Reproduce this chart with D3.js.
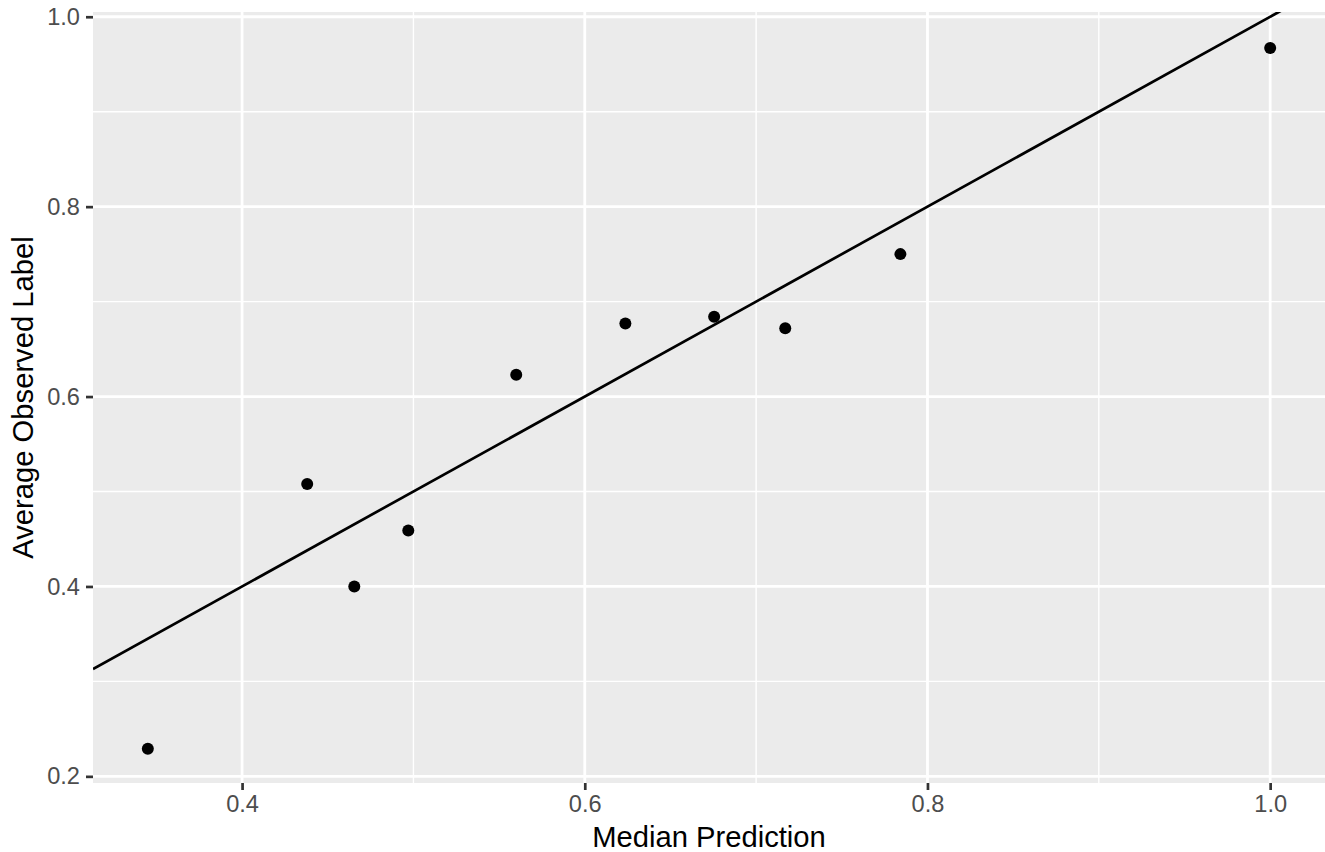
<!DOCTYPE html>
<html>
<head>
<meta charset="utf-8">
<script src="https://cdn.jsdelivr.net/npm/d3@7"></script>
<style>
body { margin: 0; background: #fff; }
text { font-family: "Liberation Sans", Arial, sans-serif; }
</style>
</head>
<body>
<svg></svg>
<script>
var screen = {width: 1325, height: 852}
var margins = {top: 12, right: 0, left: 93, bottom: 69}

// binned calibration points
var medianPred = [0.345, 0.438, 0.4655, 0.497, 0.560, 0.6237, 0.6755, 0.717, 0.7842, 1.0]
var avgObserved = [0.229, 0.508, 0.400, 0.459, 0.623, 0.677, 0.684, 0.672, 0.750, 0.967]

var xTicks = [0.4, 0.6, 0.8, 1.0]
var yTicks = [0.2, 0.4, 0.6, 0.8, 1.0]
var xMinor = [0.5, 0.7, 0.9]
var yMinor = [0.3, 0.5, 0.7, 0.9]

var xDomain = [0.313, 1.032]
var yDomain = [0.193, 1.005]

var points = medianPred.map(function(x, i) { return {x: x, y: avgObserved[i]} })

var setup = function()
{
    var svg = d3.select("svg")
        .attr("width", screen.width)
        .attr("height", screen.height)

    var x = d3.scaleLinear().domain(xDomain).range([margins.left, screen.width - margins.right])
    var y = d3.scaleLinear().domain(yDomain).range([screen.height - margins.bottom, margins.top])

    svg.append("clipPath").attr("id", "panel")
        .append("rect")
        .attr("x", x.range()[0]).attr("y", y.range()[1])
        .attr("width", x.range()[1] - x.range()[0])
        .attr("height", y.range()[0] - y.range()[1])

    // panel background
    svg.append("rect")
        .attr("x", x.range()[0]).attr("y", y.range()[1])
        .attr("width", x.range()[1] - x.range()[0])
        .attr("height", y.range()[0] - y.range()[1])
        .attr("fill", "#EBEBEB")

    var grid = svg.append("g").attr("clip-path", "url(#panel)")

    grid.selectAll(".xminor").data(xMinor).enter().append("line")
        .attr("x1", x).attr("x2", x)
        .attr("y1", y.range()[0]).attr("y2", y.range()[1])
        .attr("stroke", "white").attr("stroke-width", 1.4)
    grid.selectAll(".yminor").data(yMinor).enter().append("line")
        .attr("y1", y).attr("y2", y)
        .attr("x1", x.range()[0]).attr("x2", x.range()[1])
        .attr("stroke", "white").attr("stroke-width", 1.4)
    grid.selectAll(".xmajor").data(xTicks).enter().append("line")
        .attr("x1", x).attr("x2", x)
        .attr("y1", y.range()[0]).attr("y2", y.range()[1])
        .attr("stroke", "white").attr("stroke-width", 2.8)
    grid.selectAll(".ymajor").data(yTicks).enter().append("line")
        .attr("y1", y).attr("y2", y)
        .attr("x1", x.range()[0]).attr("x2", x.range()[1])
        .attr("stroke", "white").attr("stroke-width", 2.8)

    // y = x reference line
    grid.append("line")
        .attr("x1", x(xDomain[0])).attr("y1", y(xDomain[0]))
        .attr("x2", x(xDomain[1])).attr("y2", y(xDomain[1]))
        .attr("stroke", "black").attr("stroke-width", 2.7)

    svg.append("g").selectAll("circle")
        .data(points)
        .enter()
        .append("circle")
        .attr("cx", function(d) { return x(d.x) })
        .attr("cy", function(d) { return y(d.y) })
        .attr("r", 6)
        .attr("fill", "black")

    // axes
    var xAxis = svg.append("g")
        .attr("transform", "translate(0," + y.range()[0] + ")")
        .call(d3.axisBottom(x).tickValues(xTicks).tickFormat(d3.format(".1f")).tickSize(7).tickPadding(5.5))
    var yAxis = svg.append("g")
        .attr("transform", "translate(" + x.range()[0] + ",0)")
        .call(d3.axisLeft(y).tickValues(yTicks).tickFormat(d3.format(".1f")).tickSize(7).tickPadding(6))

    ;[xAxis, yAxis].forEach(function(a) {
        a.select(".domain").remove()
        a.selectAll(".tick line").attr("stroke", "#333333").attr("stroke-width", 2.7)
        a.selectAll(".tick text").attr("fill", "#4D4D4D")
            .style("font-size", "23.6px")
            .style("font-family", "Liberation Sans, Arial, sans-serif")
    })

    svg.append("text")
        .attr("x", (x.range()[0] + x.range()[1]) / 2)
        .attr("y", 847)
        .attr("text-anchor", "middle")
        .style("font-size", "29.2px")
        .attr("fill", "black")
        .text("Median Prediction")

    svg.append("text")
        .attr("transform", "translate(33," + (y.range()[0] + y.range()[1]) / 2 + ") rotate(-90)")
        .attr("text-anchor", "middle")
        .style("font-size", "29.2px")
        .attr("fill", "black")
        .text("Average Observed Label")
}

setup()
</script>
</body>
</html>
